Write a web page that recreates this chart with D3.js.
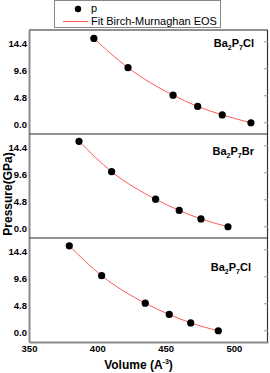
<!DOCTYPE html>
<html>
<head>
<meta charset="utf-8">
<script src="https://cdn.jsdelivr.net/npm/d3@7"></script>
<style>
  body { margin: 0; background: #fff; }
  svg { display: block; font-family: "Liberation Sans", Arial, sans-serif; }
</style>
</head>
<body>
<div id="chart"></div>
<script>
// data
var volCl1 = [397.5, 422.5, 455.5, 473.5, 491.5, 512.5];
var presCl1 = [15.0, 9.8, 4.9, 2.9, 1.4, 0.0];
var volBr = [386.6, 410.5, 442.7, 460.0, 475.9, 495.7];
var presBr = [15.2, 9.8, 4.9, 2.9, 1.4, 0.0];
var volCl2 = [379.5, 403.2, 435.1, 452.7, 468.4, 488.6];
var presCl2 = [15.1, 9.8, 4.9, 2.9, 1.4, 0.0];
var panelNames = [["Ba", "2", "P", "7", "Cl"], ["Ba", "2", "P", "7", "Br"], ["Ba", "2", "P", "7", "Cl"]];
var xTicks = [350, 400, 450, 500];
var yTicks = [0.0, 4.8, 9.6, 14.4];

var W = 270, H = 373;
var margin = {top: 30, right: 2, bottom: 31, left: 29};
var width = W - margin.left - margin.right,
    height = H - margin.top - margin.bottom;
var panelH = height / 3;

var svg = d3.select("#chart").append("svg")
  .attr("width", W)
  .attr("height", H);

var g = svg.append("g")
  .attr("transform", "translate(" + margin.left + "," + margin.top + ")");

var x = d3.scaleLinear().domain([350, 525]).range([0, width]);

var panels = [
  {vol: volCl1, pres: presCl1, name: panelNames[0], labelY: 17, labelX: 225},
  {vol: volBr, pres: presBr, name: panelNames[1], labelY: 21, labelX: 225},
  {vol: volCl2, pres: presCl2, name: panelNames[2], labelY: 33, labelX: 222}
];

panels.forEach(function(p, i) {
  var pg = g.append("g")
    .attr("transform", "translate(0," + (i * panelH) + ")");

  var y = d3.scaleLinear().domain([-2, 16.5]).range([panelH, 0]);

  // frame top + right
  pg.append("line")
    .attr("x1", 0).attr("x2", width)
    .attr("y1", 0).attr("y2", 0)
    .attr("stroke", "#222").attr("stroke-width", 1.2);
  pg.append("line")
    .attr("x1", width - 0.5).attr("x2", width - 0.5)
    .attr("y1", 0).attr("y2", panelH)
    .attr("stroke", "#333").attr("stroke-width", 1.2);

  // right inner ticks
  pg.selectAll(".rt").data(yTicks).enter().append("line")
    .attr("x1", width - 4).attr("x2", width)
    .attr("y1", function(d) { return y(d); })
    .attr("y2", function(d) { return y(d); })
    .attr("stroke", "#999").attr("stroke-width", 1);

  // left axis
  var ya = pg.append("g")
    .call(d3.axisLeft(y).tickValues(yTicks).tickSize(0).tickPadding(2)
      .tickFormat(d3.format(".1f")));
  ya.select(".domain").attr("stroke", "#8a8a8a").attr("stroke-width", 2);
  ya.selectAll("text")
    .attr("font-family", "Liberation Sans, Arial, sans-serif")
    .attr("font-size", 9.5).attr("font-weight", "bold").attr("fill", "#000")
    .attr("dy", "0.45em");

  // fit curve through the points
  var pts = p.vol.map(function(v, k) { return [v, p.pres[k]]; });
  var line = d3.line()
    .x(function(d) { return x(d[0]); })
    .y(function(d) { return y(d[1]); })
    .curve(d3.curveMonotoneX);
  pg.append("path")
    .datum(pts)
    .attr("d", line)
    .attr("fill", "none")
    .attr("stroke", "#ff5a5a")
    .attr("stroke-width", 1);

  pg.selectAll(".dot").data(pts).enter().append("circle")
    .attr("cx", function(d) { return x(d[0]); })
    .attr("cy", function(d) { return y(d[1]); })
    .attr("r", 3.6)
    .attr("fill", "#000");

  // panel label with subscripts
  var t = pg.append("text")
    .attr("x", p.labelX).attr("y", p.labelY)
    .attr("text-anchor", "end")
    .attr("font-size", 11).attr("font-weight", "bold");
  p.name.forEach(function(s, k) {
    var ts = t.append("tspan").text(s);
    if (k % 2 === 1) ts.attr("font-size", 7).attr("dy", 3);
    else if (k > 0) ts.attr("dy", -3);
  });
});

// bottom axis
var xa = g.append("g")
  .attr("transform", "translate(0," + height + ")")
  .call(d3.axisBottom(x).tickValues(xTicks).tickSize(0).tickPadding(3));
xa.select(".domain").attr("stroke", "#8a8a8a").attr("stroke-width", 2);
xa.selectAll("text")
  .attr("font-family", "Liberation Sans, Arial, sans-serif")
  .attr("font-size", 9.5).attr("font-weight", "bold").attr("fill", "#000");

// axis titles
var xt = svg.append("text")
  .attr("x", margin.left + x(437.5) - 10).attr("y", 369)
  .attr("text-anchor", "middle")
  .attr("font-size", 12).attr("font-weight", "bold");
xt.append("tspan").text("Volume (A");
xt.append("tspan").text("-3").attr("font-size", 7).attr("dy", -5);
xt.append("tspan").text(")").attr("dy", 5);

svg.append("text")
  .attr("transform", "translate(12," + (margin.top + panelH * 1.5 + 8) + ") rotate(-90)")
  .attr("text-anchor", "middle")
  .attr("font-size", 12).attr("font-weight", "bold")
  .text("Pressure(GPa)");

// legend
var lg = svg.append("g");
lg.append("rect")
  .attr("x", 54.5).attr("y", 0.5).attr("width", 166).attr("height", 27)
  .attr("fill", "#fff").attr("stroke", "#888");
lg.append("circle").attr("cx", 78).attr("cy", 9).attr("r", 3.2).attr("fill", "#000");
lg.append("text").attr("x", 91).attr("y", 12).attr("font-size", 11).text("p");
lg.append("line")
  .attr("x1", 63).attr("x2", 88).attr("y1", 21.5).attr("y2", 21.5)
  .attr("stroke", "#ff5a5a").attr("stroke-width", 1);
lg.append("text").attr("x", 91).attr("y", 25).attr("font-size", 11)
  .text("Fit Birch-Murnaghan EOS");
</script>
</body>
</html>
